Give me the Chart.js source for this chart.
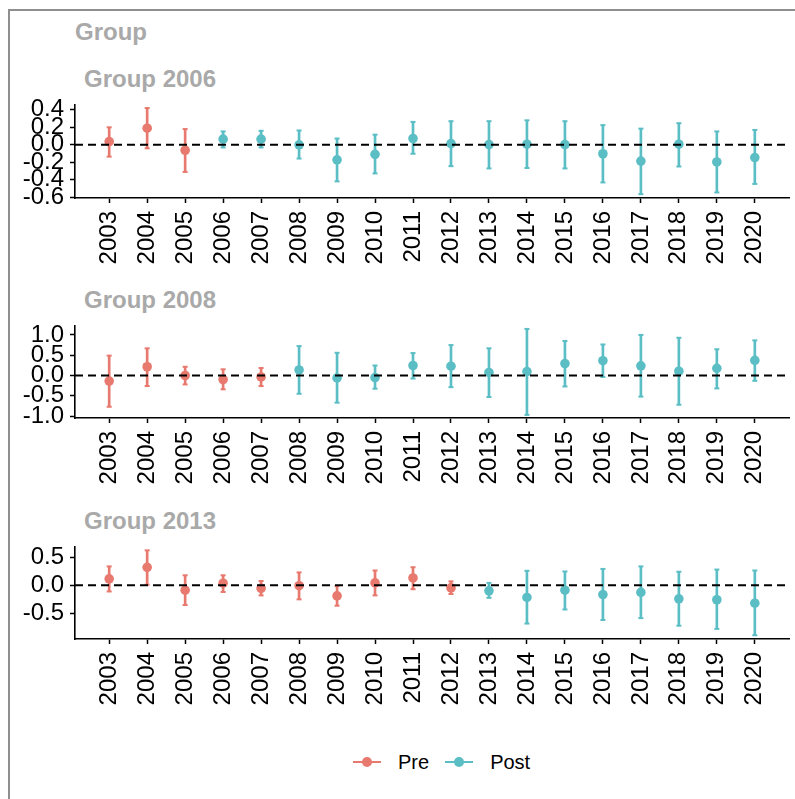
<!DOCTYPE html>
<html>
<head>
<meta charset="utf-8">
<script src="https://cdn.jsdelivr.net/npm/chart.js@4.4.1/dist/chart.umd.min.js"></script>
<style>
body { margin: 0; background: #fff; font-family: "Liberation Sans", Arial, sans-serif; }
#page { position: relative; width: 795px; height: 799px; overflow: hidden; }
.frame { position: absolute; left: 8px; top: 9px; width: 820px; height: 820px; border-left: 2px solid #8f8f8f; border-top: 2px solid #8f8f8f; }
.title { position: absolute; color: #a9a9a9; font-weight: bold; font-size: 24px; line-height: 24px; white-space: nowrap; }
canvas { position: absolute; left: 0; }
#legend { position: absolute; left: 353px; top: 750px; height: 24px; display: flex; align-items: center; font-size: 20px; color: #000; }
.key { position: relative; width: 28px; height: 2px; margin-right: 17px; }
.key span { position: absolute; left: 9px; top: -4px; width: 10px; height: 10px; border-radius: 50%; }
.lab { margin-right: 16px; }
</style>
</head>
<body>
<div id="page">
  <div class="frame"></div>
  <div class="title" style="left:75px;top:20px;">Group</div>
  <div class="title" style="left:84px;top:67px;">Group 2006</div>
  <div class="title" style="left:84px;top:288px;">Group 2008</div>
  <div class="title" style="left:84px;top:509px;">Group 2013</div>
  <canvas id="c2006" width="795" height="189" style="top:84px"></canvas>
  <canvas id="c2008" width="795" height="188" style="top:305px"></canvas>
  <canvas id="c2013" width="795" height="188" style="top:526px"></canvas>
  <div id="legend"></div>
</div>
<script>
// data
var years = [2003, 2004, 2005, 2006, 2007, 2008, 2009, 2010, 2011, 2012, 2013, 2014, 2015, 2016, 2017, 2018, 2019, 2020];
var groupNames = ["Pre", "Post"];

var est2006 = [0.036, 0.19, -0.062, 0.065, 0.065, 0.0, -0.171, -0.109, 0.072, 0.014, 0.003, 0.007, 0.003, -0.102, -0.186, 0.007, -0.196, -0.146];
var lo2006 = [-0.135, -0.04, -0.31, -0.03, -0.03, -0.157, -0.418, -0.327, -0.102, -0.244, -0.27, -0.265, -0.27, -0.43, -0.564, -0.248, -0.545, -0.447];
var hi2006 = [0.2, 0.42, 0.18, 0.153, 0.16, 0.164, 0.072, 0.116, 0.262, 0.27, 0.27, 0.28, 0.27, 0.225, 0.185, 0.247, 0.153, 0.17];

var est2008 = [-0.137, 0.216, 0.0, -0.098, -0.035, 0.137, -0.06, -0.05, 0.247, 0.23, 0.075, 0.098, 0.294, 0.365, 0.24, 0.106, 0.176, 0.372];
var lo2008 = [-0.77, -0.26, -0.22, -0.34, -0.26, -0.45, -0.67, -0.325, -0.075, -0.287, -0.53, -0.97, -0.27, -0.035, -0.52, -0.72, -0.318, -0.13];
var hi2008 = [0.49, 0.67, 0.215, 0.153, 0.185, 0.725, 0.56, 0.247, 0.553, 0.75, 0.67, 1.148, 0.85, 0.765, 1.0, 0.93, 0.647, 0.866];

var est2013 = [0.115, 0.318, -0.088, 0.037, -0.054, -0.008, -0.189, 0.042, 0.13, -0.047, -0.098, -0.216, -0.088, -0.166, -0.127, -0.24, -0.257, -0.318];
var lo2013 = [-0.11, 0.01, -0.35, -0.12, -0.18, -0.25, -0.363, -0.18, -0.07, -0.155, -0.223, -0.68, -0.43, -0.617, -0.583, -0.718, -0.774, -0.887];
var hi2013 = [0.335, 0.62, 0.177, 0.177, 0.076, 0.228, -0.014, 0.262, 0.32, 0.07, 0.042, 0.257, 0.245, 0.29, 0.335, 0.24, 0.279, 0.262];

var ticks2006 = [-0.6, -0.4, -0.2, 0.0, 0.2, 0.4];
var ticks2008 = [-1.0, -0.5, 0.0, 0.5, 1.0];
var ticks2013 = [-0.5, 0.0, 0.5];

var colors = { Pre: "#e8796e", Post: "#5bbec5" };
var X_MIN = -0.9, X_MAX = 17.9;

Chart.defaults.font.family = '"Liberation Sans", Arial, sans-serif';
Chart.defaults.color = "#000";

function axisGrid() {
    return { display: true, drawOnChartArea: false, drawTicks: true, tickLength: 5,
             color: "#000", tickColor: "#000", tickWidth: 1.5, offset: false };
}

function makePanel(id, treat, est, lo, hi, yMin, yMax, yTicks) {
    var datasets = [];
    // reference line at zero, drawn on top
    datasets.push({
        type: "line",
        data: [{ x: X_MIN, y: 0 }, { x: X_MAX, y: 0 }],
        borderColor: "#000", borderWidth: 2, borderDash: [8, 5],
        pointRadius: 0, order: 0, clip: false
    });
    groupNames.forEach(function (g) {
        var bars = [], caps = [], pts = [];
        for (var i = 0; i < years.length; i++) {
            var isPre = years[i] < treat;
            if ((g === "Pre") !== isPre) continue;
            bars.push({ x: i, y: [lo[i], hi[i]] });
            caps.push({ x: i, y: lo[i] });
            caps.push({ x: i, y: hi[i] });
            pts.push({ x: i, y: est[i] });
        }
        datasets.push({
            type: "bar", data: bars, backgroundColor: colors[g],
            barThickness: 2, grouped: false, borderWidth: 0, order: 3, clip: false
        });
        datasets.push({
            type: "scatter", data: caps, pointStyle: "line", pointRadius: 2.5,
            pointBorderWidth: 2, pointBorderColor: colors[g], order: 2, clip: false
        });
        datasets.push({
            type: "scatter", data: pts, pointRadius: 4.8, pointBorderWidth: 0,
            pointBackgroundColor: colors[g], pointBorderColor: colors[g], order: 1, clip: false
        });
    });

    return new Chart(document.getElementById(id).getContext("2d"), {
        type: "scatter",
        data: { datasets: datasets },
        options: {
            responsive: false,
            animation: false,
            events: [],
            layout: { padding: { top: 16, right: 5, left: 0, bottom: 0 } },
            plugins: { legend: { display: false }, tooltip: { enabled: false }, title: { display: false } },
            scales: {
                x: {
                    type: "linear", min: X_MIN, max: X_MAX, offset: false,
                    afterBuildTicks: function (axis) {
                        axis.ticks = years.map(function (y, i) { return { value: i }; });
                    },
                    afterFit: function (axis) { axis.height = 75; },
                    ticks: {
                        autoSkip: false, minRotation: 90, maxRotation: 90, padding: 8,
                        font: { size: 24 }, color: "#000",
                        callback: function (v) { return String(years[v]); }
                    },
                    grid: axisGrid(),
                    border: { display: true, color: "#000", width: 1.6 }
                },
                y: {
                    type: "linear", min: yMin, max: yMax,
                    afterBuildTicks: function (axis) {
                        axis.ticks = yTicks.map(function (v) { return { value: v }; });
                    },
                    afterFit: function (axis) { axis.width = 75; },
                    ticks: {
                        autoSkip: false, padding: 6, font: { size: 24 }, color: "#000",
                        callback: function (v) { return Number(v).toFixed(1); }
                    },
                    grid: axisGrid(),
                    border: { display: true, color: "#000", width: 1.6 }
                }
            }
        }
    });
}

makePanel("c2006", 2006, est2006, lo2006, hi2006, -0.608, 0.462, ticks2006);
makePanel("c2008", 2008, est2008, lo2008, hi2008, -1.047, 1.235, ticks2008);
makePanel("c2013", 2013, est2013, lo2013, hi2013, -0.954, 0.69, ticks2013);

// legend
var legend = document.getElementById("legend");
groupNames.forEach(function (g) {
    var key = document.createElement("div");
    key.className = "key";
    key.style.background = colors[g];
    var dot = document.createElement("span");
    dot.style.background = colors[g];
    key.appendChild(dot);
    var lab = document.createElement("div");
    lab.className = "lab";
    lab.textContent = g;
    legend.appendChild(key);
    legend.appendChild(lab);
});
</script>
</body>
</html>
